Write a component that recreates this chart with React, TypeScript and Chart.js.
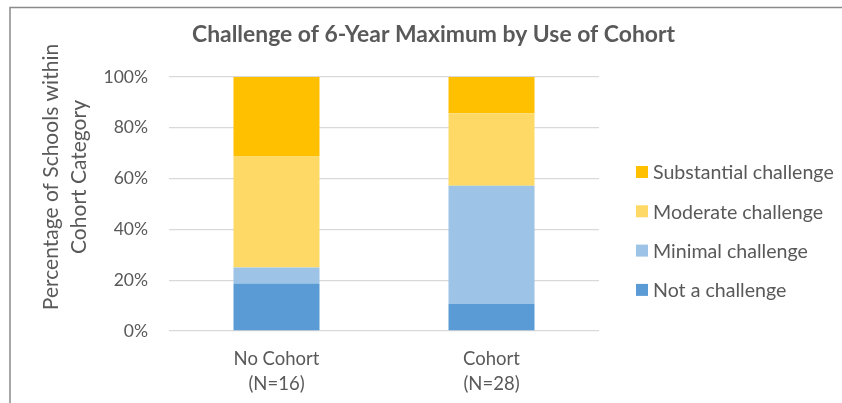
import React, { useEffect, useRef } from "react";
import { Chart, registerables } from "chart.js";

Chart.register(...registerables);

const categories = [["No Cohort", "(N=16)"], ["Cohort", "(N=28)"]];
const seriesNames = ["Not a challenge", "Minimal challenge", "Moderate challenge", "Substantial challenge"];
const notAChallenge = [18.75, 10.71];
const minimalChallenge = [6.25, 46.43];
const moderateChallenge = [43.75, 28.57];
const substantialChallenge = [31.25, 14.29];
const seriesColors = ["#5B9BD5", "#9DC3E6", "#FFD966", "#FFC000"];
const yTickValues = [0, 20, 40, 60, 80, 100];
const chartTitle = "Challenge of 6-Year Maximum by Use of Cohort";
const yAxisTitle = ["Percentage of Schools within", "Cohort Category"];

const FONT = "Lato, 'Open Sans', sans-serif";
const TEXT = "#595959";

const decorPlugin = {
  id: "decor",
  afterDraw(chart: any) {
    const ctx = chart.ctx as CanvasRenderingContext2D;
    ctx.save();
    // frame
    ctx.strokeStyle = "#8a8a8a";
    ctx.lineWidth = 1.5;
    ctx.beginPath();
    ctx.moveTo(10, 403);
    ctx.lineTo(10, 7.5);
    ctx.lineTo(842, 7.5);
    ctx.stroke();
    // title
    ctx.font = `bold 22.9px ${FONT}`;
    ctx.fillStyle = TEXT;
    ctx.textAlign = "center";
    ctx.textBaseline = "middle";
    ctx.fillText(chartTitle, 433.5, 35);
    // y-axis title (rotated, two lines)
    ctx.save();
    ctx.font = `21px ${FONT}`;
    ctx.translate(51, 177);
    ctx.rotate(-Math.PI / 2);
    yAxisTitle.forEach((line, i) => ctx.fillText(line, 0, i * 28));
    ctx.restore();
    // legend (reversed order)
    const ds = chart.data.datasets;
    ctx.font = `19.6px ${FONT}`;
    ctx.textAlign = "left";
    ctx.textBaseline = "middle";
    for (let i = 0; i < ds.length; i++) {
      const d = ds[ds.length - 1 - i];
      const y = 172 + i * 39.3;
      ctx.fillStyle = d.backgroundColor;
      ctx.fillRect(636, y - 6, 12, 12);
      ctx.fillStyle = TEXT;
      ctx.fillText(d.label, 653, y + 1);
    }
    ctx.restore();
  },
};

export default function App() {
  const ref = useRef<HTMLCanvasElement>(null);
  useEffect(() => {
    if (!ref.current) return;
    const seriesData = [notAChallenge, minimalChallenge, moderateChallenge, substantialChallenge];
    const chart = new Chart(ref.current, {
      type: "bar",
      data: {
        labels: categories as any,
        datasets: seriesNames.map((name, i) => ({
          label: name,
          data: seriesData[i],
          backgroundColor: seriesColors[i],
          borderWidth: 0,
          barPercentage: 0.4,
          categoryPercentage: 1.0,
        })),
      },
      options: {
        responsive: false,
        animation: false,
        layout: { padding: { left: 0, right: 243, top: 77, bottom: 0 } },
        plugins: {
          legend: { display: false },
          title: { display: false },
          tooltip: { enabled: false },
        },
        scales: {
          x: {
            stacked: true,
            grid: { display: false, drawTicks: false },
            border: { display: false },
            ticks: {
              color: TEXT,
              font: { family: FONT, size: 18.5, lineHeight: 1.32 },
              padding: 16,
              maxRotation: 0,
              autoSkip: false,
            },
            afterFit(scale: any) {
              scale.height = 72;
            },
          },
          y: {
            stacked: true,
            min: 0,
            max: 100,
            afterBuildTicks(scale: any) {
              scale.ticks = yTickValues.map((v) => ({ value: v }));
            },
            grid: { color: "#d9d9d9", lineWidth: 1.3, drawTicks: false },
            border: { display: false },
            ticks: {
              color: TEXT,
              font: { family: FONT, size: 17.5 },
              padding: 21,
              callback: (v: any) => v + "%",
            },
            title: { display: false },
            afterFit(scale: any) {
              scale.width = 169;
            },
          },
        },
      },
      plugins: [decorPlugin],
    });
    return () => chart.destroy();
  }, []);
  return (
    <div style={{ position: "fixed", left: 0, top: 0, width: 842, height: 403, background: "#fff" }}>
      <canvas ref={ref} width={842} height={403} style={{ display: "block" }} />
    </div>
  );
}
